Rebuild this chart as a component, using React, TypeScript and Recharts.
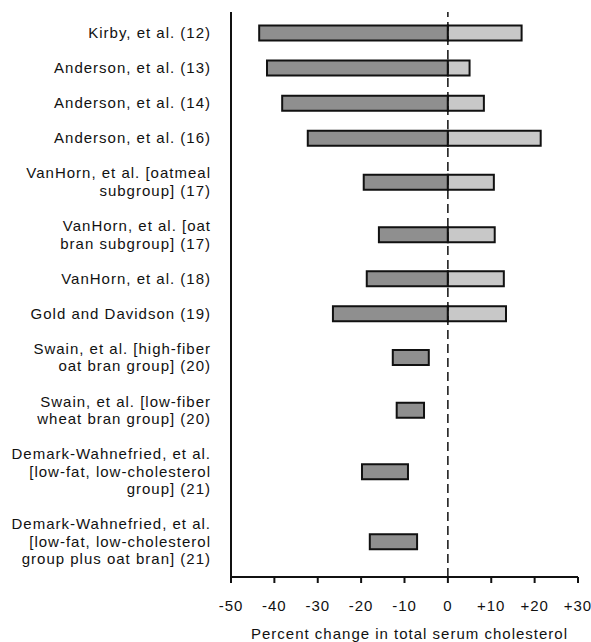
import { BarChart, Bar, XAxis, YAxis, ReferenceLine } from "recharts";

// one entry per study, "\n" splits the label lines
const studyLabels = [
  "Kirby, et al. (12)",
  "Anderson, et al. (13)",
  "Anderson, et al. (14)",
  "Anderson, et al. (16)",
  "VanHorn, et al. [oatmeal\nsubgroup] (17)",
  "VanHorn, et al. [oat\nbran subgroup] (17)",
  "VanHorn, et al. (18)",
  "Gold and Davidson (19)",
  "Swain, et al. [high-fiber\noat bran group] (20)",
  "Swain, et al. [low-fiber\nwheat bran group] (20)",
  "Demark-Wahnefried, et al.\n[low-fat, low-cholesterol\ngroup] (21)",
  "Demark-Wahnefried, et al.\n[low-fat, low-cholesterol\ngroup plus oat bran] (21)",
];
const lowChange = [-43.5, -41.7, -38.2, -32.3, -19.4, -15.9, -18.7, -26.5, -12.7, -11.8, -19.8, -18];
const highChange = [17, 5, 8.3, 21.4, 10.6, 10.8, 12.9, 13.4, -4.4, -5.5, -9.2, -7.1];
const xTicks = [-50, -40, -30, -20, -10, 0, 10, 20, 30];

// each row takes (lines + 1) units of height
let acc = 0;
const rows = studyLabels.map((label, i) => {
  const units = label.split("\n").length + 1;
  const pos = acc + units / 2;
  acc += units;
  const lo = lowChange[i];
  const hi = highChange[i];
  return {
    label,
    pos,
    neg: [lo, Math.min(hi, 0)],
    plus: hi > 0 ? [Math.max(lo, 0), hi] : [0, 0],
  };
});
const totalUnits = acc;

function StudyTick({ x, y, payload }: any) {
  const row = rows.find((r) => r.pos === payload.value);
  if (!row) return null;
  const lines = row.label.split("\n");
  const lh = 17.5;
  const first = -((lines.length - 1) / 2) * lh + 5;
  return (
    <text x={x} y={y} textAnchor="end" fontSize={15} fill="#111">
      {lines.map((t, i) => (
        <tspan key={i} x={x} dy={i === 0 ? first : lh}>
          {t}
        </tspan>
      ))}
    </text>
  );
}

export default function App() {
  return (
    <div
      style={{
        position: "absolute",
        left: 0,
        top: 0,
        background: "#fff",
        fontFamily: "'Liberation Sans', Arial, sans-serif",
        letterSpacing: 1,
      }}
    >
      <BarChart
        width={591}
        height={642}
        data={rows}
        layout="vertical"
        margin={{ top: 12, right: 13, left: 0, bottom: 0 }}
      >
        <XAxis
          type="number"
          domain={[-50, 30]}
          ticks={xTicks}
          interval={0}
          tickFormatter={(v: number) => (v > 0 ? `+${v}` : `${v}`)}
          tick={{ fill: "#111", fontSize: 15 }}
          tickSize={6}
          tickMargin={17}
          height={65}
          stroke="#111"
          strokeWidth={2}
          label={{
            value: "Percent change in total serum cholesterol",
            position: "insideBottom",
            offset: 3,
            dx: 5,
            fill: "#111",
            fontSize: 15,
          }}
        />
        <YAxis
          yAxisId="main"
          type="number"
          dataKey="pos"
          domain={[-0.2, totalUnits]}
          ticks={rows.map((r) => r.pos)}
          interval={0}
          width={231}
          tickLine={false}
          tickSize={0}
          tickMargin={20}
          tick={<StudyTick />}
          stroke="#111"
          strokeWidth={2}
          allowDataOverflow
        />
        <YAxis
          yAxisId="alt"
          type="number"
          dataKey="pos"
          orientation="right"
          width={0}
          domain={[-0.2, totalUnits]}
          hide
          allowDataOverflow
        />
        <Bar
          yAxisId="main"
          dataKey="neg"
          barSize={15}
          fill="#8f8f8f"
          stroke="#111"
          strokeWidth={2}
          isAnimationActive={false}
        />
        <Bar
          yAxisId="alt"
          dataKey="plus"
          barSize={15}
          fill="#c8c8c8"
          stroke="#111"
          strokeWidth={2}
          isAnimationActive={false}
        />
        <ReferenceLine
          yAxisId="main"
          x={0}
          stroke="#111"
          strokeWidth={1.5}
          strokeDasharray="9 5"
        />
      </BarChart>
    </div>
  );
}
